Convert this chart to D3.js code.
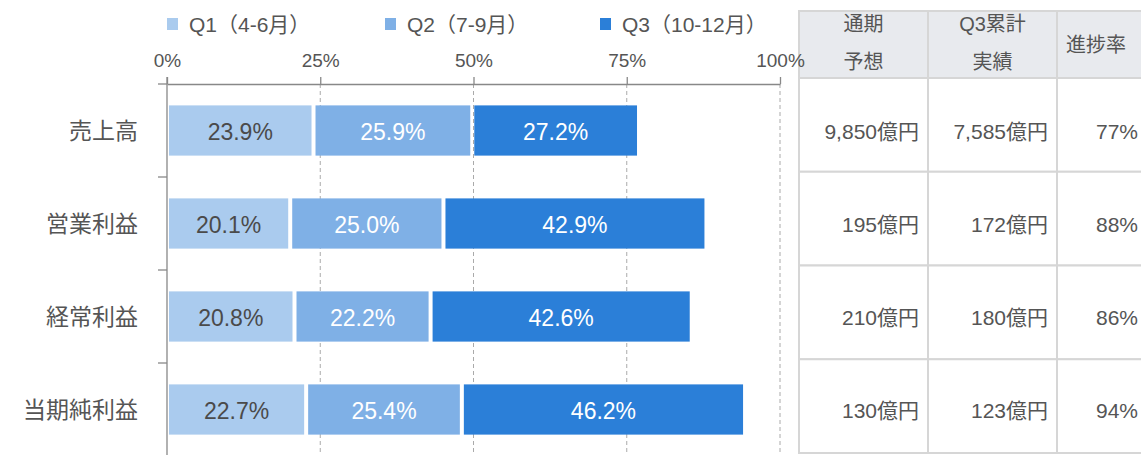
<!DOCTYPE html>
<html>
<head>
<meta charset="utf-8">
<script src="https://cdn.jsdelivr.net/npm/d3@7"></script>
<style>
  body { margin: 0; background: #fff; }
  svg { display: block; font-family: "Liberation Sans", Arial, "Noto Sans CJK JP", sans-serif; }
</style>
</head>
<body>
<svg id="canvas" width="1141" height="455"></svg>
<script>
let categories = ['売上高', '営業利益', '経常利益', '当期純利益']
let seriesNames = ['Q1（4-6月）', 'Q2（7-9月）', 'Q3（10-12月）']
let q1Values = [23.9, 20.1, 20.8, 22.7]
let q2Values = [25.9, 25.0, 22.2, 25.4]
let q3Values = [27.2, 42.9, 42.6, 46.2]
let tickValues = [0, 25, 50, 75, 100]

let tableHeaders = [['通期', '予想'], ['Q3累計', '実績'], ['進捗率']]
let forecast = ['9,850億円', '195億円', '210億円', '130億円']
let actual = ['7,585億円', '172億円', '180億円', '123億円']
let progress = ['77%', '88%', '86%', '94%']

let colors = ['#aacbee', '#7fb0e6', '#2b7fd8']
let textColors = ['#4a4a4a', '#ffffff', '#ffffff']

let canvas = d3.select('#canvas')

let x = d3.scaleLinear().domain([0, 100]).range([167, 780])
let y = d3.scaleBand().domain(categories).range([84, 456]).paddingInner(0.46).paddingOuter(0.23)

// table first so the 100% label sits over it
let colX = [799, 928, 1057, 1147]
let rowY = d3.scaleBand().domain(categories).range([78, 453])
let table = canvas.append('g')

table.selectAll('rect.head')
  .data(tableHeaders)
  .enter()
  .append('rect')
  .attr('class', 'head')
  .attr('x', (d, i) => colX[i])
  .attr('y', 11)
  .attr('width', (d, i) => colX[i + 1] - colX[i])
  .attr('height', 78 - 11)
  .attr('fill', '#e8eaee')
  .attr('stroke', '#d6d6d6')
  .attr('stroke-width', 2)

tableHeaders.forEach((lines, i) => {
  let cx = (colX[i] + colX[i + 1]) / 2
  if (i === 2) cx = 1096
  let t = table.append('text')
    .attr('x', cx)
    .attr('text-anchor', 'middle')
    .attr('fill', '#555')
    .style('font-size', '20px')
  if (lines.length === 1) {
    t.append('tspan').attr('x', cx).attr('y', 44.5).attr('dominant-baseline', 'central').text(lines[0])
  } else {
    t.append('tspan').attr('x', cx).attr('y', 24).attr('dominant-baseline', 'central').text(lines[0])
    t.append('tspan').attr('x', cx).attr('y', 62).attr('dominant-baseline', 'central').text(lines[1])
  }
})

let columns = [forecast, actual, progress]
columns.forEach((col, ci) => {
  table.selectAll('rect.c' + ci)
    .data(categories)
    .enter()
    .append('rect')
    .attr('class', 'c' + ci)
    .attr('x', colX[ci])
    .attr('y', (d) => rowY(d))
    .attr('width', colX[ci + 1] - colX[ci])
    .attr('height', rowY.bandwidth())
    .attr('fill', '#fff')
    .attr('stroke', '#d6d6d6')
    .attr('stroke-width', 2)

  table.selectAll('text.c' + ci)
    .data(categories)
    .enter()
    .append('text')
    .attr('class', 'c' + ci)
    .attr('x', colX[ci + 1] - 9)
    .attr('y', (d) => y(d) + y.bandwidth() / 2 + 1)
    .attr('text-anchor', 'end')
    .attr('dominant-baseline', 'central')
    .attr('fill', '#555')
    .style('font-size', '21px')
    .text((d, i) => col[i])
})

// gridlines
canvas.selectAll('line.grid')
  .data(tickValues.slice(1))
  .enter()
  .append('line')
  .attr('class', 'grid')
  .attr('x1', (d) => x(d))
  .attr('x2', (d) => x(d))
  .attr('y1', 84)
  .attr('y2', 455)
  .attr('stroke', '#aaa')
  .attr('stroke-width', 1)
  .attr('stroke-dasharray', '4,3')

// top axis
let xAxis = d3.axisTop(x)
  .tickValues(tickValues)
  .tickFormat((d) => d + '%')
  .tickSize(7)
  .tickSizeOuter(0)

let axisG = canvas.append('g')
  .attr('transform', 'translate(0,84)')
  .call(xAxis)
axisG.select('.domain').attr('stroke', '#888').attr('stroke-width', 1.3)
axisG.selectAll('.tick line').attr('stroke', '#888').attr('stroke-width', 1.3)
axisG.selectAll('.tick text')
  .attr('y', -24)
  .attr('dy', '0.35em')
  .attr('fill', '#555')
  .style('font-size', '19px')
  .style('font-family', '"Liberation Sans", Arial, sans-serif')

// left axis line with ticks at band boundaries
canvas.append('line')
  .attr('x1', x(0)).attr('x2', x(0))
  .attr('y1', 77).attr('y2', 455)
  .attr('stroke', '#888')
  .attr('stroke-width', 1.3)

canvas.selectAll('line.ytick')
  .data(categories)
  .enter()
  .append('line')
  .attr('class', 'ytick')
  .attr('x1', x(0) - 9)
  .attr('x2', x(0))
  .attr('y1', (d) => y(d) - y.step() * y.paddingInner() / 2)
  .attr('y2', (d) => y(d) - y.step() * y.paddingInner() / 2)
  .attr('stroke', '#888')
  .attr('stroke-width', 1.3)

canvas.selectAll('text.cat')
  .data(categories)
  .enter()
  .append('text')
  .attr('class', 'cat')
  .attr('x', 138)
  .attr('y', (d) => y(d) + y.bandwidth() / 2)
  .attr('text-anchor', 'end')
  .attr('dominant-baseline', 'central')
  .attr('fill', '#555')
  .style('font-size', '23px')
  .text((d) => d)

// stacked bars
let seriesValues = [q1Values, q2Values, q3Values]
let segments = []
categories.forEach((cat, i) => {
  let start = 0
  seriesValues.forEach((vals, s) => {
    segments.push({ cat: cat, s: s, start: start, end: start + vals[i], value: vals[i] })
    start += vals[i]
  })
})

canvas.selectAll('rect.seg')
  .data(segments)
  .enter()
  .append('rect')
  .attr('class', 'seg')
  .attr('x', (d) => x(d.start) + 2)
  .attr('y', (d) => y(d.cat))
  .attr('width', (d) => x(d.end) - x(d.start) - 4)
  .attr('height', y.bandwidth())
  .attr('fill', (d) => colors[d.s])

canvas.selectAll('text.seg')
  .data(segments)
  .enter()
  .append('text')
  .attr('class', 'seg')
  .attr('x', (d) => (x(d.start) + x(d.end)) / 2)
  .attr('y', (d) => y(d.cat) + y.bandwidth() / 2 + 1)
  .attr('text-anchor', 'middle')
  .attr('dominant-baseline', 'central')
  .attr('fill', (d) => textColors[d.s])
  .style('font-size', '23px')
  .text((d) => d3.format('.1f')(d.value) + '%')

// legend
let legendX = [167, 385, 600]
let legend = canvas.selectAll('g.legend')
  .data(seriesNames)
  .enter()
  .append('g')
  .attr('class', 'legend')
  .attr('transform', (d, i) => 'translate(' + legendX[i] + ',0)')

legend.append('rect')
  .attr('x', 0)
  .attr('y', 18)
  .attr('width', 11)
  .attr('height', 12)
  .attr('fill', (d, i) => colors[i])

legend.append('text')
  .attr('x', 22)
  .attr('y', 24)
  .attr('dominant-baseline', 'central')
  .attr('fill', '#555')
  .style('font-size', '21px')
  .text((d) => d)
</script>
</body>
</html>
